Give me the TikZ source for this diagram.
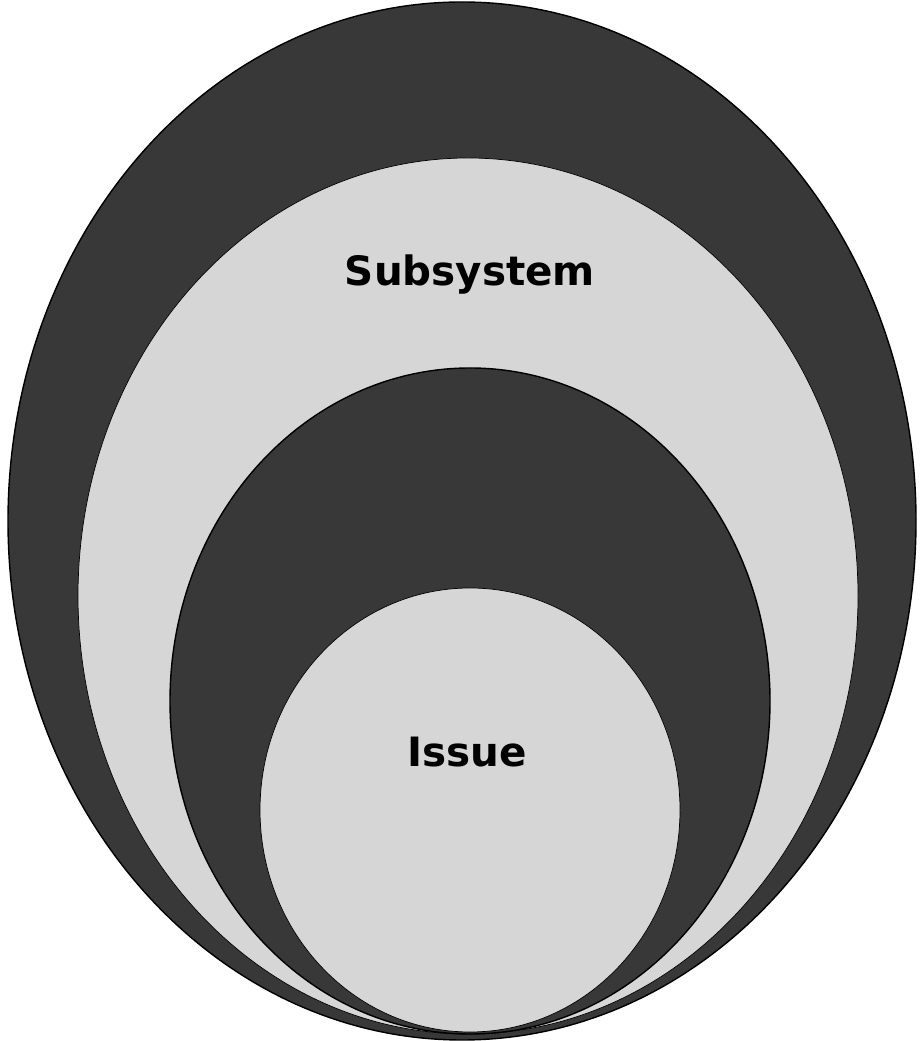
\documentclass[tikz,border=0pt]{standalone}
\usepackage{fontspec}
\usepackage{tikz}
\usetikzlibrary{positioning}
\newfontfamily\lblfont{DejaVu Sans}
\definecolor{ringdark}{gray}{0.22}
\definecolor{ringlight}{gray}{0.84}
\tikzset{
  darkring/.style={fill=ringdark,draw=black,thick},
  lightring/.style={fill=ringlight,draw=black,thin},
  lvl/.style={font=\lblfont\bfseries\fontsize{23}{26}\selectfont,inner sep=1pt},
}

\begin{document}
\begin{tikzpicture}
\useasboundingbox (0,0) rectangle (18.38,20.82);

% ------------------------------------------------ nested levels
\filldraw[darkring]  (9.24,10.40) ellipse [x radius=9.08,y radius=10.38];
\filldraw[lightring] (9.36,8.90)  ellipse [x radius=7.80,y radius=8.76];
\filldraw[darkring]  (9.40,6.80)  ellipse [x radius=6.00,y radius=6.66];
\filldraw[lightring] (9.40,4.62)  ellipse [x radius=4.20,y radius=4.44];

% ------------------------------------------------ labels
\node[lvl] (subsystem) at (9.40,15.32) {Subsystem};
\node[lvl] (issue)     at (9.35,5.78)  {Issue};

\end{tikzpicture}
\end{document}
